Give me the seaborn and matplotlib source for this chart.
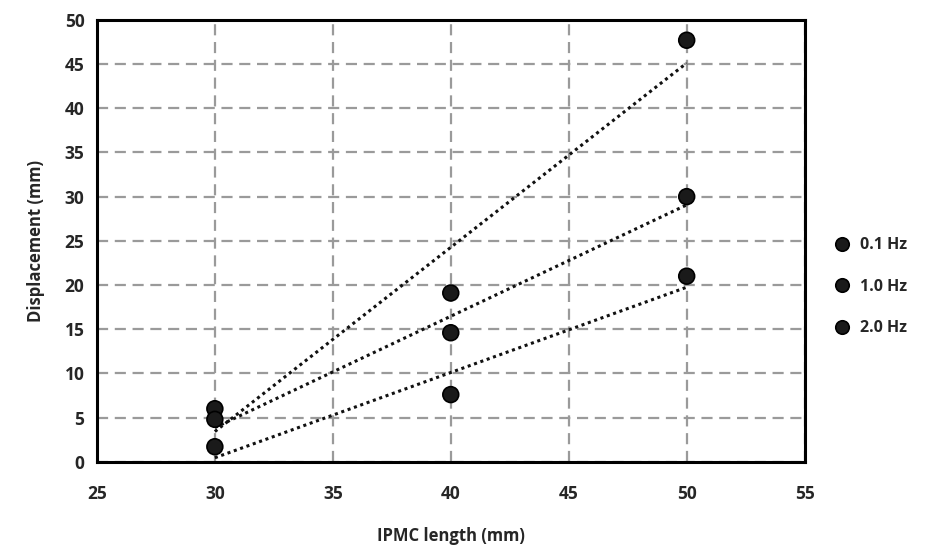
import matplotlib
matplotlib.use("Agg")
import matplotlib.pyplot as plt
import seaborn as sns
import pandas as pd

# IPMC displacement vs. length at three actuation frequencies
lengths = [30, 40, 50]
disp_01hz = [6.0, 19.1, 47.7]
disp_10hz = [4.8, 14.6, 30.0]
disp_20hz = [1.7, 7.6, 21.0]
series_labels = ["0.1 Hz", "1.0 Hz", "2.0 Hz"]

x_ticks = [25, 30, 35, 40, 45, 50, 55]
y_ticks = [0, 5, 10, 15, 20, 25, 30, 35, 40, 45, 50]

df = pd.DataFrame({
    "length": lengths * 3,
    "disp": disp_01hz + disp_10hz + disp_20hz,
    "freq": [s for s in series_labels for _ in lengths],
})

sns.set_theme(style="white")
plt.rcParams["font.family"] = ["Open Sans", "DejaVu Sans"]

fig = plt.figure(figsize=(9.5, 5.53), dpi=100)
ax = fig.add_axes([0.102, 0.165, 0.745, 0.799])

# linear trend lines per frequency
for lab in series_labels:
    sub = df[df["freq"] == lab]
    sns.regplot(data=sub, x="length", y="disp", ax=ax, ci=None, scatter=False,
                line_kws=dict(color="#111111", linestyle=(0, (1, 1.2)), linewidth=2.2))

sns.scatterplot(data=df, x="length", y="disp", hue="freq", ax=ax,
                palette=["#1a1a1a"] * 3, s=130, edgecolor="#000000",
                linewidth=1.2, zorder=5, legend=True)

ax.set_xlim(25, 55)
ax.set_ylim(0, 50)
ax.set_xticks(x_ticks)
ax.set_yticks(y_ticks)
ax.grid(True, color="#9a9a9a", linestyle=(0, (5, 3)), linewidth=1.6)
ax.set_axisbelow(True)
for sp in ax.spines.values():
    sp.set_color("#000000")
    sp.set_linewidth(2.2)

ax.tick_params(axis="y", length=0, pad=9, labelsize=12.5)
ax.tick_params(axis="x", length=0, pad=17, labelsize=12.5)
for t in ax.get_xticklabels() + ax.get_yticklabels():
    t.set_fontweight("bold")
ax.set_xlabel("IPMC length (mm)", fontsize=12, fontweight="bold", labelpad=17)
ax.set_ylabel("Displacement (mm)", fontsize=12, fontweight="bold", labelpad=14)

leg = ax.legend(title=None, loc="center left", bbox_to_anchor=(1.01, 0.396),
                frameon=False, handletextpad=0.1, labelspacing=1.6,
                markerscale=0.85, prop=dict(size=11.5, weight="bold"))

fig.savefig("out.png", dpi=100, facecolor="white")
